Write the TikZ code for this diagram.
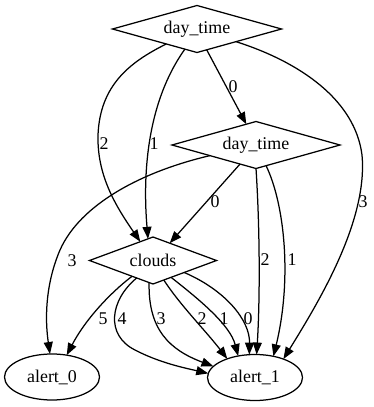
\documentclass[tikz,border=0pt]{standalone}
\usepackage{fontspec}
\setmainfont{Liberation Serif}
\usetikzlibrary{shapes.geometric,arrows.meta}

\tikzset{
  base/.style={draw, line width=1.25pt, inner sep=0pt, outer sep=0pt,
    font=\rmfamily\fontsize{17.9}{20}\selectfont},
  decision/.style={base, diamond, shape aspect=3.5,
    minimum width=#1, minimum height=47pt},
  leaf/.style={base, ellipse, minimum width=95pt, minimum height=46pt},
  elabel/.style={inner sep=0pt, font=\rmfamily\fontsize{17.9}{20}\selectfont},
  link/.style={line width=1.25pt, -{Triangle[length=12pt,width=9pt]}}
}

\begin{document}
\begin{tikzpicture}[x=1pt, y=-1pt]
\useasboundingbox (0,0) rectangle (373,407);

% decision nodes
\node[decision=169pt] (t)  at (197,29)    {day\_time};
\node[decision=168pt] (m)  at (256,145)   {day\_time};
\node[decision=127pt] (c)  at (153,260.5) {clouds};

% leaves
\node[leaf] (a0) at (52,377)    {alert\_0};
\node[leaf] (a1) at (255,377.5) {alert\_1};

% edges out of the top day_time
\draw[link] (t.295) -- (m.115);
\draw[link] (t.206.6) .. controls (130,62) and (100,85) .. (98,135)
                      .. controls (97,175) and (115,205) .. (c.124);
\draw[link] (t.239) .. controls (145,105) and (143,180) .. (c.103);
\draw[link] (t.342) .. controls (300,62) and (355,100) .. (362,155)
                    .. controls (368,220) and (320,300) .. (a1.33);

% edges out of the second day_time
\draw[link] (m.230.7) -- (c.46);
\draw[link] (m.193) .. controls (140,172) and (80,205) .. (60,250)
                    .. controls (45,285) and (45,320) .. (a0.95);
\draw[link] (m.south) .. controls (260,230) and (260,300) .. (a1.86);
\draw[link] (m.296) .. controls (285,205) and (292,280) .. (a1.49);

% edges out of clouds
\draw[link] (c.217) .. controls (110,293) and (85,320) .. (a0.56);
\draw[link] (c.227) .. controls (110,300) and (105,335) .. (135,350)
                    .. controls (160,363) and (185,368) .. (a1.175);
\draw[link] (c.260) .. controls (148,330) and (170,350) .. (a1.165);
\draw[link] (c.299) .. controls (180,305) and (205,330) .. (a1.146);
\draw[link] (c.317) .. controls (200,300) and (230,325) .. (a1.128);
\draw[link] (c.339) .. controls (225,290) and (250,320) .. (a1.104);

% edge labels
\node[elabel] (l-tm)  at (233,87)  {0};
\node[elabel] (l-tc2) at (104,144) {2};
\node[elabel] (l-tc1) at (154,144) {1};
\node[elabel] (l-ta)  at (363,202) {3};
\node[elabel] (l-mc)  at (215,202) {0};
\node[elabel] (l-ma0) at (72,261)  {3};
\node[elabel] (l-ma2) at (265,260) {2};
\node[elabel] (l-ma1) at (292,260) {1};
\node[elabel] (l-c5)  at (103,319) {5};
\node[elabel] (l-c4)  at (122,319) {4};
\node[elabel] (l-c3)  at (161,319) {3};
\node[elabel] (l-c2)  at (202,319) {2};
\node[elabel] (l-c1)  at (224,319) {1};
\node[elabel] (l-c0)  at (248,319) {0};
\end{tikzpicture}
\end{document}
